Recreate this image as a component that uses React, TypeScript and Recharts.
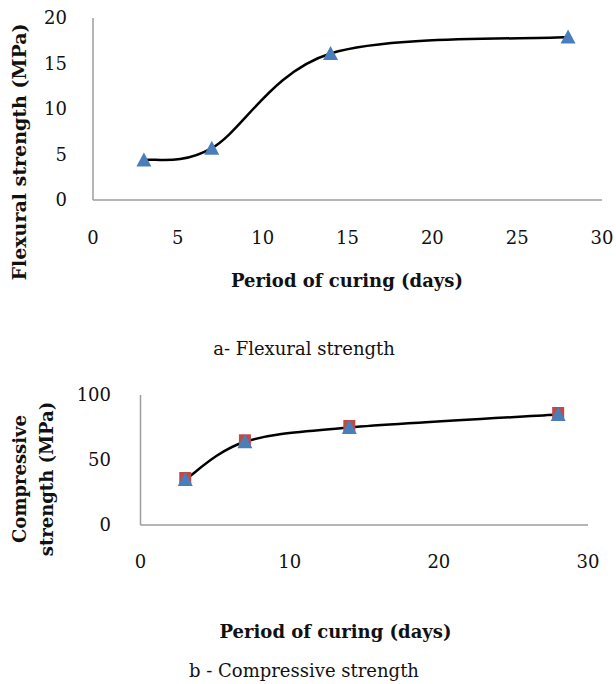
import { ComposedChart, Line, XAxis, YAxis, Label } from 'recharts'

// curing ages (days)
const days = [3, 7, 14, 28]
// a - flexural strength (MPa)
const flexural = [4.4, 5.7, 16.1, 17.9]
// b - compressive strength (MPa)
const compressive = [35, 64, 75, 85]

const flexTicksX = [0, 5, 10, 15, 20, 25, 30]
const flexTicksY = [0, 5, 10, 15, 20]
const compTicksX = [0, 10, 20, 30]
const compTicksY = [0, 50, 100]

const flexData = days.map((d, i) => ({ day: d, flex: flexural[i] }))
const compData = days.map((d, i) => ({ day: d, comp: compressive[i], compMark: compressive[i] }))

const FONT = '"DejaVu Serif", serif'
const BLUE = '#4A7EBB'
const RED = '#BE4B48'
const AXIS = '#9C9C9C'

const tickStyle = { fill: '#111', fontSize: 18, fontFamily: FONT }
const titleStyle = { fill: '#111', fontSize: 18, fontWeight: 700, fontFamily: FONT }

// Excel-style smoothed line (Catmull-Rom, 1/6 tangents, end points repeated)
function excelSmooth(context: any) {
  let pts: number[][] = []
  return {
    areaStart() {},
    areaEnd() {},
    lineStart() {
      pts = []
    },
    point(x: number, y: number) {
      pts.push([+x, +y])
    },
    lineEnd() {
      const n = pts.length
      if (!n) return
      context.moveTo(pts[0][0], pts[0][1])
      for (let i = 0; i < n - 1; i++) {
        const p0 = pts[Math.max(i - 1, 0)]
        const p1 = pts[i]
        const p2 = pts[i + 1]
        const p3 = pts[Math.min(i + 2, n - 1)]
        context.bezierCurveTo(
          p1[0] + (p2[0] - p0[0]) / 6,
          p1[1] + (p2[1] - p0[1]) / 6,
          p2[0] - (p3[0] - p1[0]) / 6,
          p2[1] - (p3[1] - p1[1]) / 6,
          p2[0],
          p2[1],
        )
      }
    },
  }
}

function triangle(p: any) {
  const { cx, cy, index } = p
  if (cx == null || cy == null) return <g key={index} />
  return (
    <path
      key={index}
      d={`M${cx},${cy - 7.5}L${cx + 7.5},${cy + 6.5}L${cx - 7.5},${cy + 6.5}Z`}
      fill={BLUE}
    />
  )
}

function square(p: any) {
  const { cx, cy, index } = p
  if (cx == null || cy == null) return <g key={index} />
  return <rect key={index} x={cx - 6} y={cy - 7.5} width={12} height={12} fill={RED} />
}

// axis title placed relative to the axis box
const xTitle = (dx: number, dy: number) => (props: any) => {
  const vb = props.viewBox ?? { x: 0, y: 0 }
  return (
    <text x={vb.x + dx} y={vb.y + dy} textAnchor="middle" style={titleStyle}>
      Period of curing (days)
    </text>
  )
}

const yTitle = (lines: string[], baselines: number[], cyOffset: number, size = 18) => (props: any) => {
  const vb = props.viewBox ?? { x: 0, y: 0, height: 0 }
  const cy = vb.y + vb.height / 2 + cyOffset
  return (
    <g>
      {lines.map((t, i) => (
        <text
          key={t}
          transform={`translate(${vb.x + baselines[i]},${cy}) rotate(-90)`}
          textAnchor="middle"
          style={{ ...titleStyle, fontSize: size }}
        >
          {t}
        </text>
      ))}
    </g>
  )
}

const captionStyle: any = {
  position: 'absolute',
  left: 0,
  width: 608,
  textAlign: 'center',
  fontFamily: FONT,
  fontSize: 18,
  lineHeight: '18px',
  color: '#111',
}

export default function App() {
  return (
    <div style={{ position: 'absolute', left: 0, top: 0, width: 616, height: 684, background: '#fff' }}>
      <div style={{ position: 'absolute', left: 0, top: 0 }}>
        <ComposedChart width={616} height={300} data={flexData} margin={{ top: 18, right: 14, left: 0, bottom: 0 }}>
          <XAxis
            type="number"
            dataKey="day"
            domain={[0, 30]}
            ticks={flexTicksX}
            height={100}
            tick={tickStyle}
            tickLine={false}
            tickSize={0}
            tickMargin={31}
            axisLine={{ stroke: AXIS, strokeWidth: 1.5 }}
          >
            <Label content={xTitle(254, 87)} />
          </XAxis>
          <YAxis
            type="number"
            domain={[0, 20]}
            ticks={flexTicksY}
            width={93}
            tick={tickStyle}
            tickLine={false}
            tickSize={0}
            tickMargin={26}
            axisLine={{ stroke: AXIS, strokeWidth: 1.5 }}
          >
            <Label content={yTitle(['Flexural strength (MPa)'], [26], 43, 19)} />
          </YAxis>
          <Line
            type={excelSmooth as any}
            dataKey="flex"
            stroke="#000"
            strokeWidth={2.5}
            dot={triangle}
            activeDot={false}
            isAnimationActive={false}
          />
        </ComposedChart>
      </div>

      <div style={{ ...captionStyle, top: 340 }}>a- Flexural strength</div>

      <div style={{ position: 'absolute', left: 0, top: 370 }}>
        <ComposedChart width={616} height={300} data={compData} margin={{ top: 25, right: 28, left: 0, bottom: 0 }}>
          <XAxis
            type="number"
            dataKey="day"
            domain={[0, 30]}
            ticks={compTicksX}
            height={145}
            tick={tickStyle}
            tickLine={false}
            tickSize={0}
            tickMargin={30}
            axisLine={{ stroke: AXIS, strokeWidth: 1.5 }}
          >
            <Label content={xTitle(195, 113)} />
          </XAxis>
          <YAxis
            type="number"
            domain={[0, 100]}
            ticks={compTicksY}
            width={140.5}
            tick={tickStyle}
            tickLine={false}
            tickSize={0}
            tickMargin={29.5}
            axisLine={{ stroke: AXIS, strokeWidth: 1.5 }}
          >
            <Label content={yTitle(['Compressive', 'strength (MPa)'], [26, 53], 19)} />
          </YAxis>
          <Line
            type="linear"
            dataKey="compMark"
            stroke="none"
            dot={square}
            activeDot={false}
            isAnimationActive={false}
          />
          <Line
            type={excelSmooth as any}
            dataKey="comp"
            stroke="#000"
            strokeWidth={2.5}
            dot={triangle}
            activeDot={false}
            isAnimationActive={false}
          />
        </ComposedChart>
      </div>

      <div style={{ ...captionStyle, top: 662 }}>b - Compressive strength</div>
    </div>
  )
}
